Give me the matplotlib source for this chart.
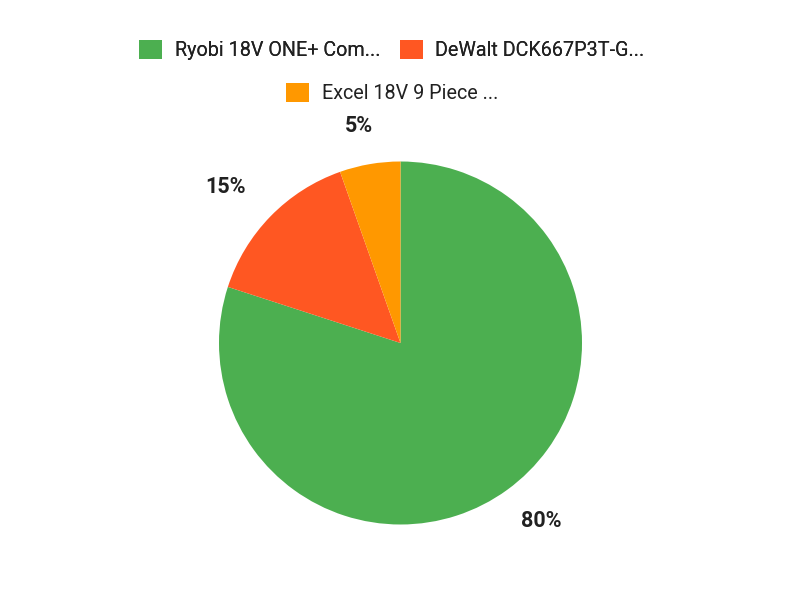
import numpy as np
import matplotlib.pyplot as plt
from matplotlib.patches import Patch

plt.rcParams['font.family'] = ['Roboto', 'DejaVu Sans']

labels = ["Ryobi 18V ONE+ Com...", "DeWalt DCK667P3T-G...", "Excel 18V 9 Piece ..."]
values = [80.0, 14.6, 5.4]
colors = ['#4CAF50', '#FF5722', '#FF9800']

fig = plt.figure(figsize=(8, 6), dpi=100)
ax = fig.add_axes([0, 0, 1, 1])

r = 181.5
cx, cy = 400.5, 343
wedges, texts, autotexts = ax.pie(
    values, colors=colors, startangle=90, counterclock=False, radius=1,
    autopct='%.0f%%', pctdistance=1.24,
    textprops={'fontsize': 15.5, 'fontweight': 'bold', 'color': '#212121'},
    wedgeprops={'linewidth': 0})

# nudge percentage labels to where the original puts them
dists = [1.25, 1.29, 1.215]
shifts = [2.5, 2.6, 1.1]
for w, t, d, s in zip(wedges, autotexts, dists, shifts):
    ang = np.deg2rad((w.theta1 + w.theta2) / 2 + s)
    t.set_position((d * np.cos(ang), d * np.sin(ang)))

ax.set_xlim(-cx / r, (800 - cx) / r)
ax.set_ylim(-(600 - cy) / r, cy / r)
ax.set_aspect('equal')
ax.axis('off')

handles = [Patch(facecolor=c, edgecolor='none') for c in colors]
leg_kw = dict(frameon=False, fontsize=14.2, handlelength=1.15, handleheight=1.15,
              handletextpad=0.65, columnspacing=1.0, labelcolor='#212121')
leg1 = fig.legend(handles[:2], labels[:2], ncol=2, loc='center',
                  bbox_to_anchor=(0.49, 1 - 50 / 600), **leg_kw)
fig.add_artist(leg1)
fig.legend(handles[2:], labels[2:], ncol=1, loc='center',
           bbox_to_anchor=(0.49, 1 - 93 / 600), **leg_kw)

fig.savefig('out.png', dpi=100)
